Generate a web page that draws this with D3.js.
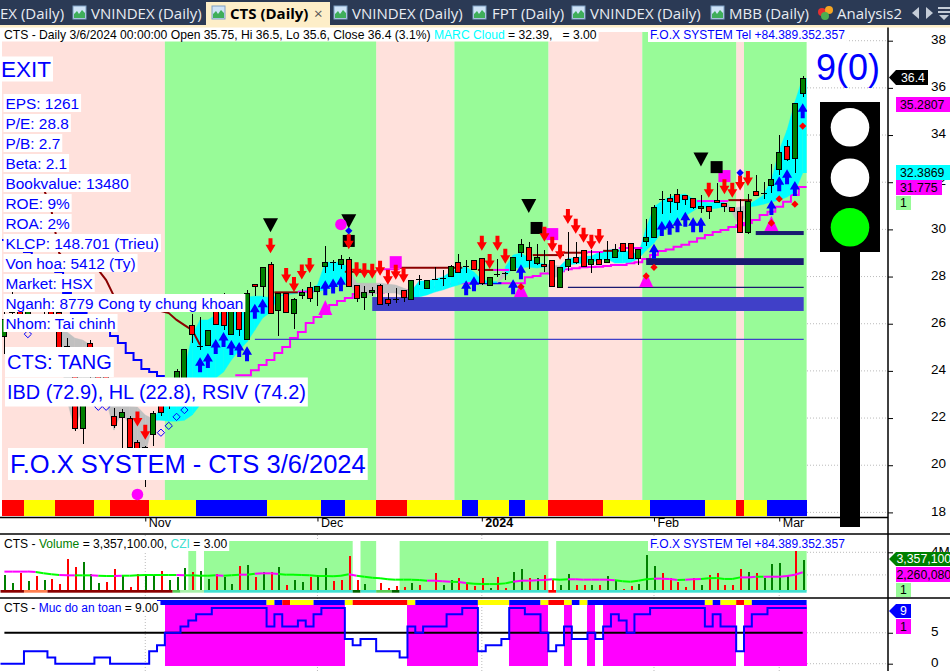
<!DOCTYPE html>
<html>
<head>
<meta charset="utf-8">
<style>
  html, body { margin: 0; padding: 0; background: #fff; }
  svg { display: block; font-family: "Liberation Sans", Arial, sans-serif; }
</style>
<script src="https://cdn.jsdelivr.net/npm/d3@7"></script>
</head>
<body>
<svg id="chart" width="950" height="671"></svg>
<script>
// Price bars (left part sits behind the labels, so estimated)
const opens = [25.48,26.5,27.0,26.4,27.0,26.5,26.9,26.5,25.05,24.0,21.6,25.2,24.0,24.1,22.1,22.03,21.99,21.0,19.42,21.3,22.6,23.0,23.1,23.7,25.94,25.06,25.09,27.0,27.2,25.56,26.85,25.34,27.67,27.57,28.52,26.6,27.31,26.44,27.19,27.54,27.36,28.42,28.6,28.52,28.73,27.63,27.1,27.33,27.63,27.03,27.04,27.41,27.03,27.89,27.52,27.9,27.93,27.99,28.6,28.43,28.69,28.77,27.65,28.1,28.13,28.29,29.01,29.24,28.54,28.52,28.7,27.54,28.42,28.83,29.11,28.52,28.73,28.6,28.81,29.41,29.41,28.77,29.5,29.64,31.28,31.31,31.49,31.45,31.31,30.92,31.01,31.26,31.13,30.97,30.8,29.9,31.62,31.54,31.89,32.55,33.53,33.0,35.75];
const highs = [26.5,27.4,27.2,27.2,27.2,27.0,27.0,26.6,25.4,24.2,23.4,25.3,24.1,24.2,22.42,22.37,22.1,21.05,20.8,22.3,22.7,23.7,24.1,24.92,26.41,26.28,25.75,27.1,27.3,26.95,27.0,27.43,27.67,28.39,28.63,27.31,27.31,27.1,27.46,27.78,27.58,29.29,28.7,28.9,28.84,27.63,27.6,27.54,27.67,27.29,27.52,27.41,27.84,28.05,27.84,28.4,28.27,28.48,28.95,28.7,28.69,28.78,28.0,28.74,28.2,28.85,29.6,29.48,29.38,29.12,28.7,28.4,29.88,29.46,29.11,29.12,29.05,29.5,29.38,29.41,29.41,29.15,30.44,31.02,31.62,31.49,31.7,31.45,31.31,31.45,31.01,31.97,31.13,30.97,31.3,31.49,32.3,32.0,32.78,34.0,33.78,35.35,36.5];
const lows = [24.7,26.2,26.1,26.2,26.5,26.3,26.2,24.9,25.0,21.47,20.9,23.7,23.2,22.9,21.58,20.71,20.71,19.4,19.07,20.8,22.1,22.4,22.9,23.5,25.17,24.9,25.09,25.97,25.75,25.56,25.5,25.34,27.17,27.15,26.44,25.5,26.52,25.77,27.03,26.93,26.75,28.15,28.25,28.33,27.55,26.93,26.58,27.17,26.8,26.77,26.86,26.93,27.03,27.64,27.47,27.85,27.6,27.99,28.16,28.16,28.29,27.64,27.61,27.99,27.85,28.29,28.83,28.32,28.49,28.2,27.57,27.54,28.25,28.53,28.42,28.15,28.52,28.6,28.81,29.07,28.77,28.49,29.29,29.64,30.65,30.69,30.82,31.02,30.85,30.71,30.43,31.1,30.73,30.8,29.9,29.8,31.45,31.3,31.55,32.3,32.88,32.37,35.6];
const closes = [26.2,27.0,26.3,27.1,26.6,26.9,26.4,24.98,25.03,21.6,23.2,23.8,23.4,23.0,21.73,22.24,20.76,19.45,20.77,22.2,22.27,23.5,24.0,24.91,25.56,25.07,25.73,25.97,25.92,26.85,25.78,27.29,27.57,28.39,26.44,27.31,26.52,27.03,27.33,27.07,27.58,28.6,28.58,28.73,27.6,27.1,27.33,27.41,26.83,26.85,27.03,27.1,27.84,27.88,27.84,27.88,27.95,28.43,28.16,28.41,28.29,27.69,28.0,28.09,28.12,28.85,29.37,28.71,28.81,28.42,27.61,28.4,28.73,28.6,28.42,28.73,28.52,28.73,29.15,29.07,28.77,29.15,29.66,30.93,31.27,31.17,31.17,31.26,30.92,31.0,30.79,31.17,31.0,30.8,29.9,31.2,31.45,31.55,32.14,33.26,33.0,35.35,36.4];

// Month ticks on the bottom axis
const monthBars = [18, 40, 61, 83, 99];
const monthNames = ['Nov', 'Dec', '2024', 'Feb', 'Mar'];
const priceTicks = [18, 20, 22, 24, 26, 28, 30, 32, 34, 36, 38];

// Background regions [first bar, last bar]
const downRegions = [[0, 20], [48, 57], [70, 81], [94, 94]];
const upRegions = [[21, 47], [58, 69], [82, 93], [95, 102]];

// Bottom ribbon of the price pane
const ribbonEnds = [2, 6, 11, 13, 18, 24, 33, 40, 43, 47, 51, 58, 60, 64, 66, 69, 76, 82, 89, 93, 94, 97, 102];
const ribbonStates = ['r','y','r','y','r','y','b','y','b','y','r','y','b','y','b','y','r','y','b','y','r','y','b'];

// Cloud edges, first value belongs to bar 7
const cloudStart = 7;
const cloudTop = [25.65,25.65,25.39,25.31,25.1,24.88,23.61,22.51,22.51,22.51,22.47,22.13,21.96,22.42,22.76,23.19,24.03,25.52,26.16,26.16,26.37,26.49,26.71,26.88,27.13,27.17,27.17,27.09,27.2,27.25,27.3,27.35,27.5,27.64,28.61,28.61,28.61,28.36,27.72,27.72,27.72,27.72,27.68,27.64,27.51,27.39,27.81,27.81,27.89,27.98,28.19,28.36,28.4,28.19,27.85,27.8,27.78,28.4,28.91,29.0,28.78,28.61,28.53,28.49,28.45,28.78,28.78,28.87,28.87,29.04,29.12,29.17,29.12,29.04,28.95,30.06,30.95,31.2,31.37,31.46,31.5,31.29,31.2,31.12,31.16,31.2,30.9,30.95,31.03,31.24,31.46,32.09,33.36,34.21,35.4,36.42];
const cloudBottom = [25.1,22.76,21.49,22.51,22.76,22.97,22.76,21.49,22.25,21.7,20.22,20.43,21.91,21.91,21.87,21.87,21.91,22.13,22.55,23.1,23.7,23.95,24.46,24.88,25.22,25.73,26.24,26.49,27.17,27.22,27.27,27.32,27.3,27.39,27.43,27.55,27.64,27.77,27.17,27.17,27.26,27.3,27.3,27.3,27.17,27.09,27.13,27.22,27.34,27.43,27.55,27.64,27.77,27.81,27.72,27.74,27.74,28.0,28.36,28.36,28.4,28.36,28.4,27.94,28.02,28.49,28.53,28.57,28.61,28.7,28.74,28.57,28.57,28.61,28.74,29.12,29.42,29.89,30.14,30.4,30.57,30.78,30.99,30.86,30.9,30.95,30.69,30.06,30.95,30.99,31.07,31.16,31.24,31.37,31.58,32.39];
const grayCloudSpans = [[7, 18], [44, 51], [63, 63], [69, 70], [92, 94]];

// Lines on the price pane, first value belongs to the start bar
const supportStart = 30;
const supportLine = [23.82,23.82,24.03,24.25,24.46,24.76,25.01,25.39,25.65,26.03,26.28,26.49,26.79,26.96,27.09,27.26,27.3,27.32,27.32,27.34,27.34,27.39,27.43,27.47,27.51,27.55,27.6,27.68,27.72,27.72,27.72,27.72,27.72,27.72,27.72,27.72,27.72,27.97,28.02,28.13,28.16,28.23,28.31,28.35,28.39,28.4,28.42,28.45,28.49,28.49,28.56,28.61,28.74,28.91,29.08,29.15,29.26,29.35,29.48,29.62,29.76,29.89,29.97,30.1,30.18,30.27,30.4,30.61,30.75,30.96,31.17,31.46,31.8];
const supportBlueBars = [61, 62, 63, 64];
const fallingBlue = [29.55,29.38,29.21,29.04,28.87,28.61,28.36,28.19,27.3,26.45,26.45,26.24,25.94,25.73,25.48,25.18,24.76,24.46,24.08,23.95,23.78];
const resistanceStart = 5;
const resistanceCurve = [31.75,30.82,29.0,28.61,28.49,28.4,28.36,28.28,27.85,27.17,27.0,26.88,26.79,26.71,26.62,26.54,26.45,26.16,25.94,25.73,25.1];
const stopDark = [[35,37,27.33],[44,47,28.2],[51,58,28.37],[61,62,28.28],[68,71,28.91],[72,74,29.01],[77,78,29.09],[93,95,31.24]];
const stopPink = [[38,39,27.36],[48,50,28.31],[63,64,28.28],[75,76,29.04],[79,81,29.21],[89,92,31.2]];

// Support levels [first bar, upper price, lower price]
const levelBlue = [[47, 27.13, 26.54]];
const levelNavy = [[82, 28.78, 28.49], [96, 29.93, 29.76]];
const thinBlue = [[32, 25.34]];
const thinNavy = [[72, 27.54]];

// Signals
const sellBars = [17,18,34,36,37,38,39,44,45,46,47,48,49,50,51,61,62,63,64,69,70,71,72,73,74,75,76,90,92,93,94,95];
const sellPrices = [21.96,21.4,29.31,28.04,27.66,28.19,28.47,29.48,28.29,28.25,28.22,28.35,27.97,28.18,28.05,29.41,28.64,29.41,28.86,29.79,29.37,29.03,30.55,30.13,29.75,29.45,29.7,31.66,31.81,31.66,31.97,32.16];
const buyBars = [25,26,27,28,29,30,31,32,33,41,42,43,59,60,65,66,83,84,85,86,87,88,89,98,99,100,101,102];
const buyPrices = [24.26,24.44,25.03,25.33,24.99,24.91,24.73,26.53,26.74,27.52,27.6,27.69,27.52,27.69,27.57,28.2,29.07,30.04,30.09,30.2,30.43,30.2,30.2,30.93,31.94,32.23,31.73,35.03];
const blackTriangles = [[34,30.18],[44,30.35],[67,30.99],[89,32.96]];
const blackSquares = [[44,29.51],[68,30.06],[91,32.64]];
const pinkSquares = [[50,28.61],[70,29.8],[92,32.26]];
const pinkTriangles = [[41,26.69],[66,27.45],[82,27.87],[98,30.25]];
const pinkCircles = [[43,30.21],[17,18.76]];
const blueDiamonds = [[44,29.94],[94,32.4]];
const redDiamonds = [[66,27.57],[82,28.02],[83,28.39],[98,30.27],[99,31.29],[101,31.07],[102,34.38]];
const hollowDiamonds = [[3,25.56],[12,22.48],[13,22.48],[20,21.38],[21,21.67],[22,22.05],[23,22.34]];

// Volume pane, in millions
const volumes = [1.99,1.25,2.2,1.49,1.9,1.55,1.64,1.19,3.41,2.7,3.14,2.08,1.25,1.37,2.52,1.9,0.93,2.08,2.08,1.99,2.35,1.55,1.81,2.61,2.26,2.35,1.64,2.08,1.81,1.19,2.79,2.88,1.81,2.26,2.26,2.7,1.11,1.55,1.37,1.81,1.99,2.61,1.46,1.55,3.67,1.55,1.19,0.6,1.28,0.84,1.02,0.93,1.28,1.11,0.66,2.17,1.11,1.55,1.73,1.19,1.02,1.73,0.84,1.81,0.84,2.26,2.52,1.73,1.73,1.99,1.55,1.11,2.08,1.11,1.11,1.11,1.11,1.9,1.55,0.75,1.02,1.19,3.76,2.79,2.17,1.73,1.37,0.93,1.73,1.11,1.99,2.17,1.11,1.11,2.52,2.26,2.17,1.73,2.96,3.05,1.9,4.11,3.36];
const volumeStates = 'ggrgrgrrrrgggrrgrrggrgggrggrggrgrgrgrggrggrrrrggrrrrgrgrggrrrrgrrggrgrrggrrgrggrrgggrrrrrgrrrrrgrggggrg'.split('').slice(0, 103);
const volumeAverage = [2.29,2.29,2.29,2.29,2.26,2.14,2.05,1.99,1.96,1.96,1.96,1.96,1.93,1.9,1.9,1.93,1.93,1.96,1.99,1.99,1.99,1.99,1.99,1.96,1.96,1.93,1.93,1.96,1.93,1.96,2.02,2.02,2.11,2.14,2.14,2.08,2.02,2.02,1.99,1.96,1.9,1.9,1.87,1.93,2.05,1.93,1.84,1.75,1.7,1.61,1.58,1.58,1.58,1.55,1.49,1.49,1.43,1.4,1.37,1.28,1.22,1.19,1.19,1.19,1.25,1.4,1.49,1.49,1.52,1.55,1.61,1.58,1.61,1.61,1.58,1.58,1.58,1.58,1.52,1.43,1.4,1.49,1.61,1.67,1.67,1.64,1.55,1.58,1.61,1.64,1.7,1.73,1.64,1.64,1.78,1.78,1.84,1.84,1.84,1.84,1.9,2.02,2.23];
const volumePinkBars = [0,1,2,3,7,8,11,14,22,27,30,32,33,34,44,54,55,56,58,65,66,67,68,69,72,73,74,75,76,77,83,84,85,87,88,94,95,97,98,99,100,101,102];
const volumeTicks = [4];
const paleSpans = [[24,24],[26,44],[46,47],[51,69],[71,102]];
const cziEnds = [2,5,21,22,25,44,45,47,49,50,69,70,102];
const cziStates = ['dark','orange','dark','lime','pale','teal','forest','teal','lime','forest','teal','red','teal'];

// Safety pane
const safety = [0,0,0,2,2,2,1,0,0,0,0,0,1,1,0,0,0,0,0,2,3,5,5,6,7,8,8,9,9,9,9,9,9,9,6,8,6,6,7,6,8,9,9,9,4,3,4,4,2,2,2,1,6,5,6,6,6,8,8,9,9,2,3,3,4,9,9,8,8,5,2,3,6,4,4,5,4,6,8,7,5,8,8,9,9,9,9,9,9,9,6,8,6,6,2,6,8,8,9,9,9,9,9];
const safetyTicks = [0, 5];
const safetyRibbonStart = 20;
const safetyRibbonEnds = [33,34,35,36,39,43,44,51,52,60,64,68,69,71,72,73,74,89,90,91,93,94,95,102];
const safetyRibbonStates = ['b','y','b','r','y','b','y','r','y','b','y','b','y','r','y','b','y','b','y','b','y','r','y','b'];

// Fundamentals box
const infoRows = ['EPS: 1261','P/E: 28.8','P/B: 2.7','Beta: 2.1','Bookvalue: 13480','ROE: 9%','ROA: 2%','KLCP: 148.701 (Trieu)','Von hoa: 5412 (Ty)','Market: HSX','Nganh: 8779 Cong ty chung khoan','Nhom: Tai chinh'];
const tabs = [
  { label: 'EX (Daily)', x: 0 },
  { label: 'VNINDEX (Daily)', x: 91, icon: 73 },
  { label: 'VNINDEX (Daily)', x: 352, icon: 334 },
  { label: 'FPT (Daily)', x: 492, icon: 473 },
  { label: 'VNINDEX (Daily)', x: 590, icon: 572 },
  { label: 'MBB (Daily)', x: 729, icon: 711 },
  { label: 'Analysis2', x: 837 }
];

const BLUE = '#0000ff', PINK = '#ffe1dc', GREEN = '#98fb98', MAGENTA = '#ff00ff';
const ribbonColor = { r: '#ff0000', y: '#ffff00', b: '#0000ff' };
const cziColor = { dark: '#8b0000', orange: '#ff7f50', lime: '#55cc55', pale: '#a8f0a8', teal: '#40e0d0', forest: '#006400', red: '#ff0000' };

const svg = d3.select('#chart');

// Scales
const x = d3.scaleLinear().domain([0, 102]).range([4.4, 802.7]);
const y = d3.scaleLinear().domain([18, 38]).range([512.4, 40.7]);
const yVol = d3.scaleLinear().domain([0, 4]).range([597.5, 552.3]);
const ySafe = d3.scaleLinear().domain([0, 9]).range([663.7, 608]);
const halfBar = (x(1) - x(0)) / 2;
const left = i => x(i) - halfBar;
const right = i => x(i) + halfBar;

const clip = svg.append('defs').append('clipPath').attr('id', 'pane');
clip.append('rect').attr('x', 2).attr('y', 27).attr('width', 805).attr('height', 490);

// Grid first, everything else lies over it
const grid = svg.append('g').attr('stroke', '#bbb').attr('stroke-dasharray', '1,2');
grid.selectAll('.h').data(priceTicks).join('line').attr('x1', 807).attr('x2', 888).attr('y1', d => y(d)).attr('y2', d => y(d));
grid.selectAll('.v').data(volumeTicks.concat([2])).join('line').attr('x1', 807).attr('x2', 888).attr('y1', d => yVol(d)).attr('y2', d => yVol(d));
grid.selectAll('.s').data(safetyTicks).join('line').attr('x1', 807).attr('x2', 888).attr('y1', d => ySafe(d)).attr('y2', d => ySafe(d));
grid.selectAll('.m').data(monthBars).join('line').attr('x1', d => x(d)).attr('x2', d => x(d)).attr('y1', 535).attr('y2', 671);

const price = svg.append('g').attr('clip-path', 'url(#pane)');

// Region backgrounds
price.selectAll('.down').data(downRegions).join('rect')
  .attr('x', d => left(d[0])).attr('width', d => right(d[1]) - left(d[0]))
  .attr('y', 32).attr('height', 484).attr('fill', PINK);
price.selectAll('.up').data(upRegions).join('rect')
  .attr('x', d => left(d[0])).attr('width', d => right(d[1]) - left(d[0]))
  .attr('y', 32).attr('height', 484).attr('fill', GREEN);

// Expand run ends into [first, last, state]
function runs(ends, states, start) {
  return ends.map((e, k) => [k ? ends[k - 1] + 1 : start, e, states[k]]);
}
price.selectAll('.ribbon').data(runs(ribbonEnds, ribbonStates, 0)).join('rect')
  .attr('x', d => left(d[0])).attr('width', d => right(d[1]) - left(d[0]))
  .attr('y', 500).attr('height', 16).attr('fill', d => ribbonColor[d[2]])
  .attr('shape-rendering', 'crispEdges');

// Support line under the cloud
const supportData = supportLine.map((v, k) => [supportStart + k, v]);
const stepLine = d3.line().x(d => left(d[0])).y(d => y(d[1])).curve(d3.curveStepAfter);
price.append('path').datum(supportData.concat([[103, supportLine[supportLine.length - 1]]]))
  .attr('d', stepLine).attr('fill', 'none').attr('stroke', MAGENTA).attr('stroke-width', 2);
price.append('path').datum(supportData.filter(d => supportBlueBars.includes(d[0])))
  .attr('d', stepLine).attr('fill', 'none').attr('stroke', BLUE).attr('stroke-width', 2);

// Cloud, gray where it is falling
const cloudArea = d3.area().x(d => x(d)).y0(d => y(cloudBottom[d - cloudStart])).y1(d => y(cloudTop[d - cloudStart]));
const isGray = i => grayCloudSpans.some(s => i >= s[0] && i <= s[1]);
for (let i = cloudStart; i < 102; i++) {
  price.append('path').datum([i, i + 1]).attr('d', cloudArea)
    .attr('fill', isGray(i) ? '#c0c0c0' : '#00ffff').attr('stroke', isGray(i) ? '#c0c0c0' : '#00ffff').attr('stroke-width', 0.4);
}
// the cloud stops at the last bar edge
price.append('rect').attr('x', x(102)).attr('width', halfBar)
  .attr('y', y(cloudTop[cloudTop.length - 1])).attr('height', y(cloudBottom[cloudBottom.length - 1]) - y(cloudTop[cloudTop.length - 1]))
  .attr('fill', '#00ffff');

// Levels
const levelRect = (data, color) => price.selectAll(null).data(data).join('rect')
  .attr('x', d => x(d[0])).attr('width', d => x(102) + 1 - x(d[0]))
  .attr('y', d => y(d[1])).attr('height', d => y(d[2]) - y(d[1])).attr('fill', color);
levelRect(levelBlue, '#4040c8');
levelRect(levelNavy, '#191970');
const levelLine = (data, color) => price.selectAll(null).data(data).join('line')
  .attr('x1', d => x(d[0])).attr('x2', x(102) + 1)
  .attr('y1', d => y(d[1])).attr('y2', d => y(d[1])).attr('stroke', color).attr('stroke-width', 1.2);
levelLine(thinBlue, '#4040c8');
levelLine(thinNavy, '#191970');

// Falling lines on the left
const fallingData = fallingBlue.map((v, k) => [k, v]);
price.append('path').datum(fallingData.concat([[21, fallingBlue[fallingBlue.length - 1]]]))
  .attr('d', stepLine).attr('fill', 'none').attr('stroke', BLUE).attr('stroke-width', 2);
price.append('path').datum(resistanceCurve.map((v, k) => [resistanceStart + k, v]))
  .attr('d', d3.line().x(d => x(d[0])).y(d => y(d[1])))
  .attr('fill', 'none').attr('stroke', '#8b0000').attr('stroke-width', 2);

// Short stop segments
const stopSeg = (data, color) => price.selectAll(null).data(data).join('line')
  .attr('x1', d => left(d[0])).attr('x2', d => right(d[1]))
  .attr('y1', d => y(d[2])).attr('y2', d => y(d[2])).attr('stroke', color).attr('stroke-width', 2);
stopSeg(stopDark, '#8b0000');
stopSeg(stopPink, MAGENTA);

// Candles
const bars = d3.range(closes.length);
const pxBar = i => Math.round(x(i));
const candle = price.append('g').attr('shape-rendering', 'crispEdges');
candle.selectAll('.wick').data(bars).join('line')
  .attr('x1', d => pxBar(d) + 0.5).attr('x2', d => pxBar(d) + 0.5)
  .attr('y1', d => y(highs[d])).attr('y2', d => y(lows[d]))
  .attr('stroke', '#000');
candle.selectAll('.body').data(bars.filter(i => Math.abs(opens[i] - closes[i]) >= 0.05)).join('rect')
  .attr('x', d => pxBar(d) - 2.5).attr('width', 5)
  .attr('y', d => Math.round(y(Math.max(opens[d], closes[d]))) + 0.5)
  .attr('height', d => Math.round(Math.abs(y(opens[d]) - y(closes[d]))))
  .attr('fill', d => closes[d] > opens[d] ? '#008000' : '#ff0000')
  .attr('stroke', '#000');
candle.selectAll('.doji').data(bars.filter(i => Math.abs(opens[i] - closes[i]) < 0.05)).join('rect')
  .attr('x', d => pxBar(d) - 3).attr('width', 6)
  .attr('y', d => Math.round(y(opens[d]))).attr('height', 1)
  .attr('fill', '#000');

// Markers sit under the arrows
const at = d => `translate(${x(d[0])},${y(d[1])})`;
const marks = price.append('g');
marks.selectAll('.ps').data(pinkSquares).join('rect')
  .attr('x', d => x(d[0]) - 6).attr('y', d => y(d[1]) - 6).attr('width', 12).attr('height', 12).attr('fill', MAGENTA);
marks.selectAll('.bs').data(blackSquares).join('rect')
  .attr('x', d => x(d[0]) - 6).attr('y', d => y(d[1]) - 6).attr('width', 12).attr('height', 12).attr('fill', '#000');
marks.selectAll('.pt').data(pinkTriangles).join('path')
  .attr('d', 'M0,-7.5L7,7.5H-7Z').attr('transform', at).attr('fill', MAGENTA);
marks.selectAll('.bt').data(blackTriangles).join('path')
  .attr('d', 'M-7.5,-7H7.5L0,7Z').attr('transform', at).attr('fill', '#000');
marks.selectAll('.pc').data(pinkCircles).join('circle')
  .attr('cx', d => x(d[0])).attr('cy', d => y(d[1])).attr('r', 5.8).attr('fill', MAGENTA);

// Arrows
const downArrow = 'M-2,-7.5H2V-1H5L0,7.5L-5,-1H-2Z';
const upArrow = 'M-2,7.5H2V1H5L0,-7.5L-5,1H-2Z';
price.selectAll('.sell').data(sellBars.map((b, k) => [b, sellPrices[k]])).join('path')
  .attr('d', downArrow).attr('transform', at).attr('fill', '#ff0000');
price.selectAll('.buy').data(buyBars.map((b, k) => [b, buyPrices[k]])).join('path')
  .attr('d', upArrow).attr('transform', at).attr('fill', BLUE);

const dots = price.append('g');
const diamond = d3.symbol(d3.symbolDiamond2, 34)();
dots.selectAll('.bd').data(blueDiamonds).join('path').attr('d', diamond).attr('transform', at).attr('fill', BLUE);
dots.selectAll('.rd').data(redDiamonds).join('path').attr('d', diamond).attr('transform', at).attr('fill', '#ff0000');
dots.selectAll('.hd').data(hollowDiamonds).join('path').attr('d', diamond).attr('transform', at)
  .attr('fill', 'none').attr('stroke', BLUE);

// Volume pane
const vol = svg.append('g');
vol.selectAll('.pale').data(paleSpans).join('rect')
  .attr('x', d => left(d[0])).attr('width', d => right(d[1]) - left(d[0]))
  .attr('y', 541).attr('height', 50).attr('fill', GREEN);
vol.selectAll('.vb').data(bars).join('rect')
  .attr('x', d => pxBar(d)).attr('width', 2)
  .attr('y', d => yVol(volumes[d])).attr('height', d => 591 - yVol(volumes[d]))
  .attr('fill', d => volumeStates[d] === 'g' ? '#008000' : '#ff0000')
  .attr('shape-rendering', 'crispEdges');
vol.selectAll('.czi').data(runs(cziEnds, cziStates, 0)).join('rect')
  .attr('x', d => left(d[0])).attr('width', d => right(d[1]) - left(d[0]))
  .attr('y', 590).attr('height', 2.7).attr('fill', d => cziColor[d[2]]);
vol.selectAll('.ma').data(bars.slice(0, -1)).join('line')
  .attr('x1', d => x(d)).attr('x2', d => x(d + 1))
  .attr('y1', d => yVol(volumeAverage[d])).attr('y2', d => yVol(volumeAverage[d + 1]))
  .attr('stroke', d => volumePinkBars.includes(d) ? MAGENTA : '#00ff00').attr('stroke-width', 2);

// Safety pane
const safe = svg.append('g');
safe.selectAll('.sf').data(bars.filter(i => safety[i] >= 5)).join('rect')
  .attr('x', d => Math.round(left(d))).attr('width', d => Math.round(right(d)) - Math.round(left(d)))
  .attr('y', 605).attr('height', 61).attr('fill', MAGENTA).attr('shape-rendering', 'crispEdges');
safe.selectAll('.sr').data(runs(safetyRibbonEnds, safetyRibbonStates, safetyRibbonStart)).join('rect')
  .attr('x', d => left(d[0])).attr('width', d => right(d[1]) - left(d[0]))
  .attr('y', 600).attr('height', 5).attr('fill', d => ribbonColor[d[2]]);
safe.append('line').attr('x1', x(0)).attr('x2', x(102))
  .attr('y1', ySafe(5)).attr('y2', ySafe(5)).attr('stroke', '#000').attr('stroke-width', 2);
safe.append('path').datum(safety.map((v, k) => [k, v]).concat([[103, 9]]))
  .attr('d', d3.line().x(d => left(d[0])).y(d => ySafe(d[1])).curve(d3.curveStepAfter))
  .attr('fill', 'none').attr('stroke', BLUE).attr('stroke-width', 2);

// Axes
const axisRight = (scale, ticks, fmt) => d3.axisRight(scale).tickValues(ticks).tickSize(5).tickPadding(38).tickFormat(fmt);
const paneAxis = (a) => {
  const g = svg.append('g').attr('transform', 'translate(888,0)').call(a);
  g.select('.domain').remove();
  g.selectAll('text').attr('font-size', 13.5).attr('fill', '#000').attr('dy', '0.2em');
  g.selectAll('text').attr('font-family', '"Liberation Sans", Arial, sans-serif');
  return g;
};
paneAxis(axisRight(y, priceTicks, d => d));
paneAxis(axisRight(yVol, volumeTicks, d => d + 'M'));
paneAxis(axisRight(ySafe, safetyTicks, d => d));

const xAxis = d3.axisBottom(x).tickValues(monthBars).tickSize(4).tickPadding(0)
  .tickFormat((d, k) => monthNames[k]);
const xg = svg.append('g').attr('transform', 'translate(0,517.5)').call(xAxis);
xg.select('.domain').remove();
xg.selectAll('text').attr('text-anchor', 'start').attr('x', 3).attr('y', 1).attr('font-size', 12.5)
  .attr('fill', '#000').attr('font-family', '"Liberation Sans", Arial, sans-serif')
  .attr('font-weight', (d, k) => monthNames[k] === '2024' ? 'bold' : 'normal');

// Frame lines
const frame = [[0, 888, 517.5], [0, 950, 534], [0, 950, 598]];
svg.selectAll('.frame').data(frame).join('line')
  .attr('x1', d => d[0]).attr('x2', d => d[1]).attr('y1', d => d[2]).attr('y2', d => d[2])
  .attr('stroke', '#000').attr('stroke-width', 1.5);
svg.append('line').attr('x1', 888).attr('x2', 888).attr('y1', 27).attr('y2', 671).attr('stroke', '#000').attr('stroke-width', 1.5);

// Traffic light
const light = svg.append('g');
light.append('rect').attr('x', 840).attr('y', 240).attr('width', 20).attr('height', 287).attr('fill', '#000');
light.append('rect').attr('x', 820).attr('y', 102).attr('width', 60).attr('height', 150).attr('fill', '#000');
light.selectAll('circle').data([[127.3, '#fff'], [177.7, '#fff'], [227.3, '#00ff00']]).join('circle')
  .attr('cx', 850).attr('cy', d => d[0]).attr('r', 19.3).attr('fill', d => d[1]);
svg.append('text').attr('x', 816).attr('y', 80).attr('font-size', 36).attr('fill', BLUE).text('9(0)');

// White-backed text labels
function boxed(txt, tx, cy, size, h) {
  const g = svg.append('g');
  const r = g.append('rect').attr('fill', '#fff');
  const t = g.append('text').attr('x', tx).attr('y', cy).attr('dy', '0.36em')
    .attr('font-size', size).attr('fill', BLUE).text(txt);
  const w = t.node().getComputedTextLength();
  r.attr('x', tx - 2).attr('y', cy - h / 2).attr('width', w + 4).attr('height', h);
  return t;
}
boxed('EXIT', 1, 69, 22.5, 25);
infoRows.forEach((row, k) => boxed(row, 5.5, 103 + k * 20, 15.4, 18));
boxed('CTS: TANG', 7, 362, 20, 30);
boxed('IBD (72.9), HL (22.8), RSIV (74.2)', 7, 392, 19.9, 29);
boxed('F.O.X SYSTEM - CTS 3/6/2024', 10, 464, 25.5, 32);
boxed('F.O.X SYSTEM Tel +84.389.352.357', 650, 34.5, 12, 15);
boxed('F.O.X SYSTEM Tel +84.389.352.357', 650, 544, 12, 14);

// Mixed colour legends
function legend(parts, tx, cy, h, size) {
  const g = svg.append('g');
  const r = g.append('rect').attr('fill', '#fff');
  const t = g.append('text').attr('x', tx).attr('y', cy).attr('dy', '0.36em').attr('font-size', size);
  parts.forEach(p => t.append('tspan').attr('fill', p[1]).text(p[0]));
  r.attr('x', tx - 2).attr('y', cy - h / 2).attr('width', t.node().getComputedTextLength() + 4).attr('height', h);
}
legend([['CTS - Daily 3/6/2024 00:00:00 Open 35.75, Hi 36.5, Lo 35.6, Close 36.4 (3.1%) ', '#000'], ['MARC Cloud', '#00ffff'], [' = 32.39,\u00a0\u00a0 = 3.00', '#000']], 4, 34.5, 14, 12.15);
legend([['CTS - ', '#000'], ['Volume', '#008000'], [' = 3,357,100.00, ', '#000'], ['CZI', '#40e0d0'], [' = 3.00', '#000']], 4, 544, 14, 12.1);
legend([['CTS - ', '#000'], ['Muc do an toan', BLUE], [' = 9.00', '#000']], 4, 607.5, 13, 12);

// Right side value tags
function tag(txt, top, h, x0, x1, bg, color, arrow, pad) {
  const g = svg.append('g');
  g.append('rect').attr('x', x0).attr('y', top).attr('width', x1 - x0).attr('height', h).attr('fill', bg);
  if (arrow) g.append('path').attr('d', `M889,${top + h / 2}L${x0},${top}V${top + h}Z`).attr('fill', bg);
  g.append('text').attr('x', x0 + (pad === undefined ? 4 : pad)).attr('y', top + h / 2).attr('dy', '0.36em').attr('font-size', 12.3).attr('fill', color).text(txt);
}
const fmtClose = closes[closes.length - 1].toString();
tag(fmtClose, 70, 15, 896, 928, '#000', '#fff', true, 5);
tag('35.2807', 97, 15, 896, 950, MAGENTA, '#000');
tag('32.3869', 165, 15, 896, 950, '#00ffff', '#000');
tag('31.775', 180, 15, 896, 942, MAGENTA, '#000');
tag('1', 196, 14, 896, 911, GREEN, '#000');
tag('3,357,100', 552, 14, 896, 950, '#008000', '#fff', true, 0.5);
tag('2,260,080', 567, 15, 896, 950, MAGENTA, '#000', false, 0.5);
tag('1', 583, 14, 896, 911, GREEN, '#000');
tag('9', 604, 14, 896, 911, '#0000ff', '#fff', true);
tag('1', 619, 15, 896, 911, MAGENTA, '#000');

// Tab strip
const tabBar = svg.append('g').attr('font-family', '"Open Sans", "Noto Sans", sans-serif').attr('font-size', 15);
tabBar.append('rect').attr('width', 950).attr('height', 25).attr('fill', '#2b3a55');
tabBar.append('rect').attr('y', 25).attr('width', 950).attr('height', 2.5).attr('fill', '#fdeec8');
tabBar.append('rect').attr('x', 206).attr('y', 2).attr('width', 124).attr('height', 24).attr('fill', '#fdeec8');
tabBar.selectAll('.lbl').data(tabs).join('text')
  .attr('x', d => d.x).attr('y', 18.5).attr('fill', '#e8ecf2').text(d => d.label);
function tabIcon(ix) {
  const g = tabBar.append('g').attr('transform', `translate(${ix},6)`);
  g.append('rect').attr('width', 13).attr('height', 13).attr('fill', '#cfe3f7').attr('stroke', '#7f9fc4');
  g.append('path').attr('d', 'M1,12V8L4,5L6,8L9,4L12,7V12Z').attr('fill', '#3fae5a');
}
tabs.filter(d => d.icon).forEach(d => tabIcon(d.icon));
tabIcon(212);
tabBar.append('text').attr('x', 230).attr('y', 18.5).attr('font-weight', 'bold').attr('fill', '#000').text('CTS (Daily)');
tabBar.append('text').attr('x', 314).attr('y', 18.5).attr('fill', '#555').text('×');
tabBar.selectAll('.gem').data([[822, 12, '#e53030'], [829, 10, '#f5a623'], [825, 16, '#4caf50']]).join('circle')
  .attr('cx', d => d[0]).attr('cy', d => d[1]).attr('r', 4).attr('fill', d => d[2]);
tabBar.append('path').attr('d', 'M919,7L912,13L919,19Z').attr('fill', '#c5cdd8');
tabBar.append('path').attr('d', 'M926,7L933,13L926,19Z').attr('fill', '#c5cdd8');
tabBar.append('path').attr('d', 'M938,7H950V9H938ZM938,11H950V13H938ZM939,15H949L944,20Z').attr('fill', '#c5cdd8');
</script>
</body>
</html>
